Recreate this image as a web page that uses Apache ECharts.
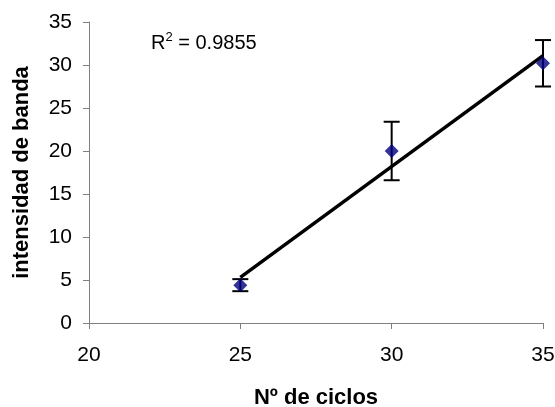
<!DOCTYPE html>
<html>
<head>
<meta charset="utf-8">
<script src="https://cdn.jsdelivr.net/npm/echarts@6/dist/echarts.min.js"></script>
<style>html,body{margin:0;padding:0;background:#fff;}#c{width:555px;height:407px;}</style>
</head>
<body>
<div id="c"></div>
<script>
var ciclos = [25, 30, 35];
var intensidad = [4.4, 20.0, 30.2];
var errorBar = [0.7, 3.4, 2.7];
var xTicks = [20, 25, 30, 35];
var yTicks = [0, 5, 10, 15, 20, 25, 30, 35];

// least-squares trend line over the data points
var n = ciclos.length, sx = 0, sy = 0, sxx = 0, sxy = 0;
for (var i = 0; i < n; i++) { sx += ciclos[i]; sy += intensidad[i]; sxx += ciclos[i]*ciclos[i]; sxy += ciclos[i]*intensidad[i]; }
var slope = (n*sxy - sx*sy) / (n*sxx - sx*sx);
var icpt = (sy - slope*sx) / n;
var xMin = Math.min.apply(null, ciclos), xMax = Math.max.apply(null, ciclos);
var trend = [[xMin, slope*xMin + icpt], [xMax, slope*xMax + icpt]];

var font = 'Liberation Sans, Arial, sans-serif';
var chart = echarts.init(document.getElementById('c'));
chart.setOption({
  animation: false,
  backgroundColor: '#fff',
  grid: {left: 89, right: 12, top: 22, bottom: 84, containLabel: false, outerBoundsMode: 'none'},
  xAxis: {
    type: 'value', min: xTicks[0], max: xTicks[xTicks.length-1], interval: 5,
    name: 'Nº de ciclos', nameLocation: 'middle', nameGap: 64,
    nameTextStyle: {fontFamily: font, fontSize: 22, fontWeight: 'bold', color: '#000'},
    axisLine: {lineStyle: {color: '#808080', width: 1}},
    axisTick: {show: true, length: 6, lineStyle: {color: '#808080'}},
    axisLabel: {fontFamily: font, fontSize: 21, color: '#000', margin: 22},
    splitLine: {show: false}
  },
  yAxis: {
    type: 'value', min: yTicks[0], max: yTicks[yTicks.length-1], interval: 5,
    name: 'intensidad de banda', nameLocation: 'middle', nameGap: 56, nameRotate: 90,
    nameTextStyle: {fontFamily: font, fontSize: 22, fontWeight: 'bold', color: '#000'},
    axisLine: {show: true, lineStyle: {color: '#808080', width: 1}},
    axisTick: {show: true, length: 6, lineStyle: {color: '#808080'}},
    axisLabel: {fontFamily: font, fontSize: 21, color: '#000', margin: 17},
    splitLine: {show: false}
  },
  graphic: [{
    type: 'text', left: 151, top: 31,
    style: {
      text: '{a|R}{s|2}{a| = 0.9855}',
      rich: {
        a: {fontFamily: font, fontSize: 20, fill: '#000', verticalAlign: 'bottom', lineHeight: 22},
        s: {fontFamily: font, fontSize: 13, fill: '#000', verticalAlign: 'top', lineHeight: 22, padding: [0,0,8,0]}
      }
    }
  }],
  series: [
    {
      type: 'custom', z: 2,
      data: ciclos.map(function (x, i) { return [x, intensidad[i] - errorBar[i], intensidad[i] + errorBar[i]]; }),
      renderItem: function (params, api) {
        var lo = api.coord([api.value(0), api.value(1)]);
        var hi = api.coord([api.value(0), api.value(2)]);
        var w = 8;
        var st = {stroke: '#000', lineWidth: 2};
        return {type: 'group', children: [
          {type: 'line', shape: {x1: lo[0], y1: lo[1], x2: hi[0], y2: hi[1]}, style: st},
          {type: 'line', shape: {x1: lo[0]-w, y1: lo[1], x2: lo[0]+w, y2: lo[1]}, style: st},
          {type: 'line', shape: {x1: hi[0]-w, y1: hi[1], x2: hi[0]+w, y2: hi[1]}, style: st}
        ]};
      },
      encode: {x: 0, y: [1, 2]}
    },
    {
      type: 'line', z: 3, data: trend, symbol: 'none',
      lineStyle: {color: '#000', width: 3.5}
    },
    {
      type: 'scatter', z: 4,
      data: ciclos.map(function (x, i) { return [x, intensidad[i]]; }),
      symbol: 'diamond', symbolSize: [14, 14],
      itemStyle: {color: '#000080'}
    }
  ]
});
</script>
</body>
</html>
